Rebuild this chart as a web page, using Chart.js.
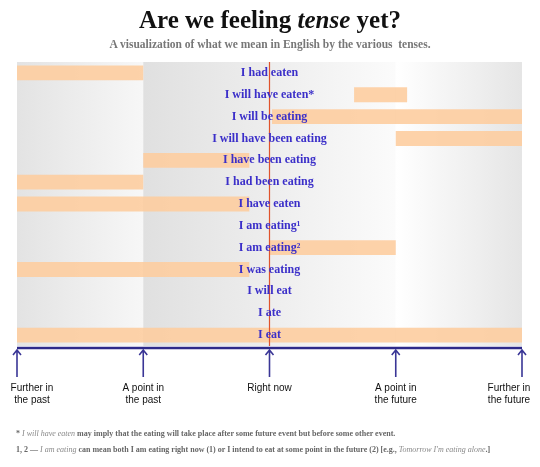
<!DOCTYPE html>
<html><head><meta charset="utf-8">
<script src="https://cdn.jsdelivr.net/npm/chart.js@4"></script>
<style>
body{margin:0;background:#fff;width:540px;height:467px;overflow:hidden;position:relative;font-family:"Liberation Serif",serif}
#t{position:absolute;top:6px;left:0;width:540px;text-align:center;font-size:25px;font-weight:bold;color:#111}
#s{position:absolute;top:38px;left:0;width:540px;text-align:center;font-size:11.5px;font-weight:bold;color:#777}
.f{position:absolute;left:16px;font-size:8px;color:#666;font-weight:bold;white-space:nowrap}
.f i{font-weight:normal;color:#888}
canvas{position:absolute;left:0;top:0}
</style></head><body>
<canvas id="c" width="540" height="467"></canvas>
<div id="t">Are we feeling <i>tense</i> yet?</div>
<div id="s">A visualization of what we mean in English by the various&nbsp; tenses.</div>
<div class="f" style="top:429px">* <i>I will have eaten</i> may imply that the eating will take place after some future event but before some other event.</div>
<div class="f" style="top:445px">1, 2 — <i>I am eating</i> can mean both I am eating right now (1) or I intend to eat at some point in the future (2) [e.g., <i>Tomorrow I'm eating alone</i>.]</div>
<script>
const categories=["I had eaten","I will have eaten*","I will be eating","I will have been eating","I have been eating","I had been eating","I have eaten","I am eating¹","I am eating²","I was eating","I will eat","I ate","I eat"];
const barStart=[0,2.67,2.02,3,1,0,0,null,2,0,null,null,0];
const barEnd=[1,3.09,4,4,1.84,1,1.84,null,3,1.84,null,null,4];
const pointValues=[null,null,null,null,null,null,null,2,null,null,3,1,null];
const tickLabels=[["Further in","the past"],["A point in","the past"],["Right now"],["A point in","the future"],["Further in","the future"]];
const orange='rgba(253,205,160,0.9)';
const bg={id:'bg',beforeDatasetsDraw(ch){const c=ch.ctx,a=ch.chartArea,x=ch.scales.x;
 const bands=[[0,1,'#e3e3e3','#f7f7f7'],[1,3,'#e0e0e0','#fbfbfb'],[3,4,'#ffffff','#e5e5e5']];
 bands.forEach(b=>{const x0=x.getPixelForValue(b[0]),x1=x.getPixelForValue(b[1]);const g=c.createLinearGradient(x0,0,x1,0);g.addColorStop(0,b[2]);g.addColorStop(1,b[3]);c.fillStyle=g;c.fillRect(x0,a.top,x1-x0,a.bottom-a.top);});},
 afterDatasetsDraw(ch){const c=ch.ctx,a=ch.chartArea,x=ch.scales.x,y=ch.scales.y;const xm=x.getPixelForValue(2);
 c.save();c.strokeStyle='#e0532c';c.lineWidth=1.2;c.beginPath();c.moveTo(xm,a.top);c.lineTo(xm,a.bottom);c.stroke();
 c.fillStyle='#3b2fc9';c.font='bold 12px "Liberation Serif"';c.textAlign='center';c.textBaseline='middle';
 categories.forEach((l,i)=>c.fillText(l,xm,y.getPixelForValue(i)));
 c.strokeStyle='#2e2a8a';c.lineWidth=2.5;c.beginPath();c.moveTo(a.left,a.bottom+2);c.lineTo(a.right,a.bottom+2);c.stroke();
 c.lineWidth=1.6;c.strokeStyle='#3a3696';
 c.fillStyle='#111';c.font='10px "Liberation Sans"';c.textBaseline='top';
 for(let v=0;v<=4;v++){const px=x.getPixelForValue(v);c.beginPath();c.moveTo(px,a.bottom+4);c.lineTo(px,a.bottom+31);c.moveTo(px-4,a.bottom+9);c.lineTo(px,a.bottom+4);c.lineTo(px+4,a.bottom+9);c.stroke();
  tickLabels[v].forEach((t,k)=>c.fillText(t,v===0?px+15:v===4?px-13:px,a.bottom+37+k*12));}
 c.restore();}};
new Chart(document.getElementById('c'),{
 data:{labels:categories,datasets:[
  {type:'bar',indexAxis:'y',data:barStart.map((s,i)=>s===null?null:[s,barEnd[i]]),backgroundColor:orange,barPercentage:0.68,categoryPercentage:1,order:2},
  {type:'scatter',data:pointValues.map((v,i)=>v===null?null:{x:v,y:i}),backgroundColor:orange,pointRadius:7,pointHoverRadius:7,borderWidth:0,order:1,showLine:false}
 ]},
 options:{indexAxis:'y',responsive:false,animation:false,events:[],
  layout:{padding:{left:17,right:18,top:62,bottom:121}},
  plugins:{legend:{display:false},tooltip:{enabled:false}},
  scales:{
   x:{type:'linear',min:0,max:4,display:false},
   y:{type:'category',display:false,offset:true}
  }},
 plugins:[bg]});
</script></body></html>
